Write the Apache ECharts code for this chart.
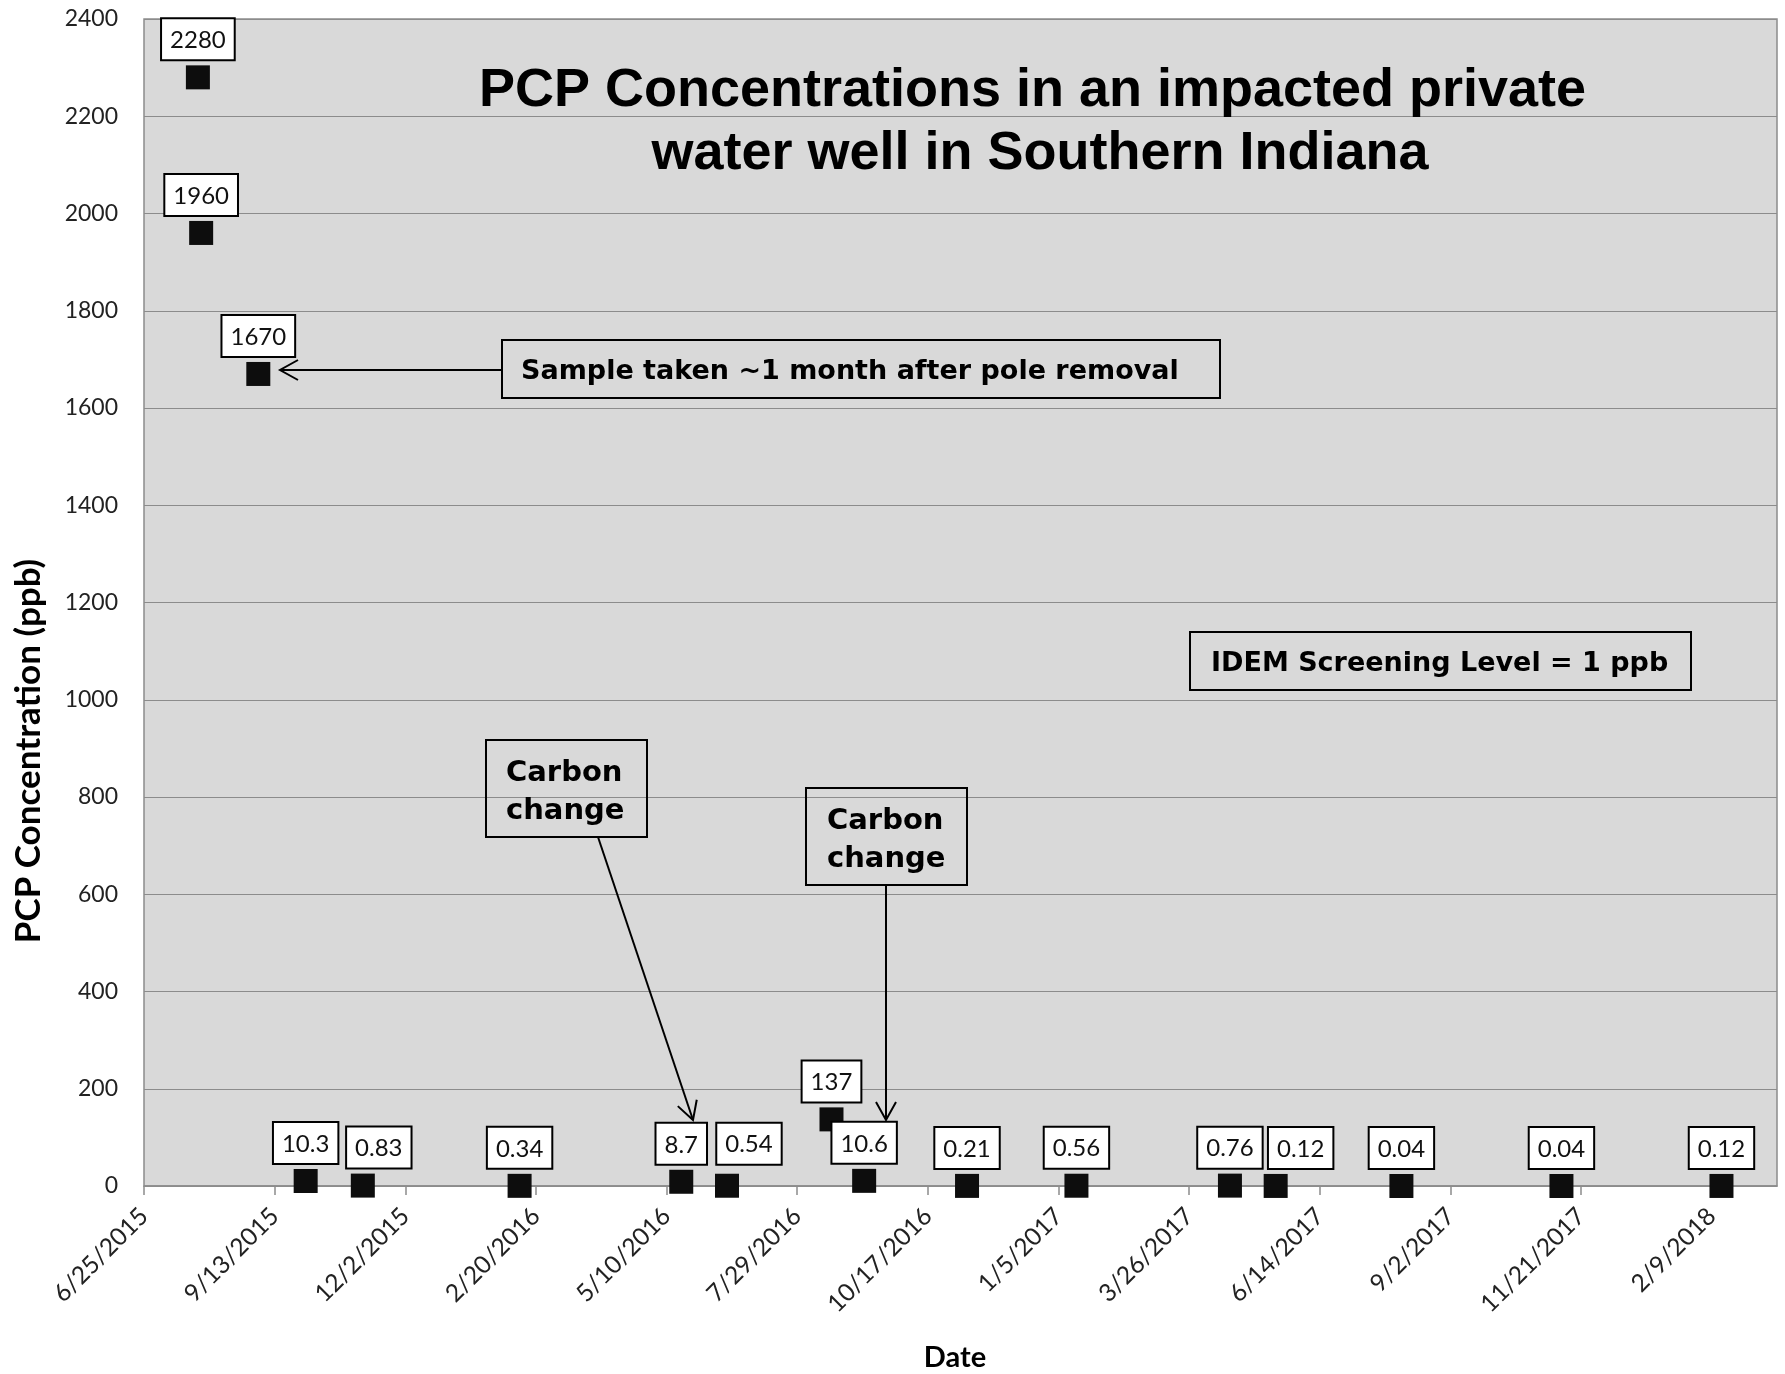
<!DOCTYPE html>
<html><head><meta charset="utf-8">
<script src="https://cdn.jsdelivr.net/npm/echarts@6/dist/echarts.min.js"></script>
<style>html,body{margin:0;padding:0;background:#fff}#c{width:1785px;height:1374px}</style>
</head><body><div id="c"></div>
<script>
// ---- data ----
const sampleDates = ['7/28/2015','7/30/2015','9/3/2015','10/2/2015','11/6/2015','2/10/2016','5/19/2016','6/16/2016','8/19/2016','9/8/2016','11/10/2016','1/16/2017','4/20/2017','5/18/2017','8/3/2017','11/9/2017','2/15/2018'];
const pcpValues = [2280, 1960, 1670, 10.3, 0.83, 0.34, 8.7, 0.54, 137, 10.6, 0.21, 0.56, 0.76, 0.12, 0.04, 0.04, 0.12];
const pcpLabels = ['2280','1960','1670','10.3','0.83','0.34','8.7','0.54','137','10.6','0.21','0.56','0.76','0.12','0.04','0.04','0.12'];
const xTickLabels = ['6/25/2015','9/13/2015','12/2/2015','2/20/2016','5/10/2016','7/29/2016','10/17/2016','1/5/2017','3/26/2017','6/14/2017','9/2/2017','11/21/2017','2/9/2018'];
const xAxisStart = '6/25/2015';
const xAxisEnd = '3/21/2018';
const yMin = 0, yMax = 2400, yStep = 200;

const titleText = 'PCP Concentrations in an impacted private \nwater well in Southern Indiana';
const yAxisTitle = 'PCP Concentration (ppb)';
const xAxisTitle = 'Date';
const noteSample = 'Sample taken ~1 month after pole removal';
const noteIdem = 'IDEM Screening Level = 1 ppb';
const noteCarbon = 'Carbon\nchange';

// ---- helpers ----
function dayNum(s) { const p = s.split('/').map(Number); return Date.UTC(p[2], p[0]-1, p[1]) / 86400000; }
const d0 = dayNum(xAxisStart);
const off = s => dayNum(s) - d0;
const tickOffsets = xTickLabels.map(off);
const labelByOffset = {};
xTickLabels.forEach((t, i) => labelByOffset[tickOffsets[i]] = t);
const seriesData = sampleDates.map((d, i) => [off(d), pcpValues[i]]);

// manually nudged data labels (pixel offsets, as moved in the original)
const labelNudges = { 4: [16, 0], 7: [22, -4], 13: [25, 0] };

const GRID = '#8c8c8c';
const LBL = 'Lato, "Open Sans", sans-serif';
const NOTE = '"DejaVu Sans", sans-serif';

function arrow(x1, y1, x2, y2) {
  const dx = x2 - x1, dy = y2 - y1, L = Math.hypot(dx, dy);
  const ux = dx / L, uy = dy / L, hl = 18, hw = 10;
  const bx = x2 - ux * hl, by = y2 - uy * hl;
  return [
    { type: 'line', shape: { x1, y1, x2, y2 }, style: { stroke: '#000', lineWidth: 2 }, z: 50 },
    { type: 'polyline', shape: { points: [[bx - uy * hw, by + ux * hw], [x2, y2], [bx + uy * hw, by - ux * hw]] },
      style: { stroke: '#000', lineWidth: 2, fill: null }, z: 50 }
  ];
}
function box(x, y, w, h) {
  return { type: 'rect', shape: { x, y, width: w, height: h }, style: { fill: 'rgba(0,0,0,0)', stroke: '#000', lineWidth: 2 }, z: 50 };
}
function txt(text, x, y, font, align, lh, rot) {
  return { type: 'text', x, y, rotation: rot || 0, z: 51,
    style: { text, font, fill: '#000', textAlign: align || 'left', textVerticalAlign: 'middle', lineHeight: lh } };
}

const chart = echarts.init(document.getElementById('c'), null, { renderer: 'canvas' });
chart.setOption({
  animation: false,
  backgroundColor: '#fff',
  title: {
    text: titleText, left: 1040, top: 60, textAlign: 'center', padding: 0,
    textStyle: { fontFamily: '"Liberation Sans", Arial, sans-serif', fontWeight: 'bold', fontSize: 54, lineHeight: 63, color: '#000' }
  },
  grid: { left: 144, right: 8, top: 19, bottom: 188, show: true, backgroundColor: '#d9d9d9', borderColor: GRID, borderWidth: 1.5 },
  xAxis: {
    type: 'value', min: 0, max: off(xAxisEnd),
    splitLine: { show: false },
    axisLine: { lineStyle: { color: GRID, width: 1.5 } },
    axisTick: { show: true, customValues: tickOffsets, length: 9, lineStyle: { color: GRID, width: 1.5 } },
    axisLabel: { customValues: tickOffsets, rotate: 45, margin: 26, fontSize: 24.5, fontFamily: LBL, color: '#222',
      formatter: v => labelByOffset[Math.round(v)] || '' }
  },
  yAxis: {
    type: 'value', min: yMin, max: yMax, interval: yStep,
    axisLine: { show: false }, axisTick: { show: false },
    splitLine: { lineStyle: { color: GRID, width: 1.2 } },
    axisLabel: { margin: 26, fontSize: 23, fontFamily: LBL, color: '#222', formatter: v => String(v) }
  },
  series: [{
    type: 'scatter', symbol: 'rect', symbolSize: 24, clip: false,
    itemStyle: { color: '#0d0d0d', opacity: 1 },
    data: seriesData,
    label: {
      show: true, position: 'top', distance: 6,
      formatter: p => pcpLabels[p.dataIndex],
      fontFamily: LBL, fontSize: 24, lineHeight: 26, color: '#111',
      backgroundColor: '#fff', borderColor: '#000', borderWidth: 2, padding: [8, 8, 6, 8]
    },
    labelLayout: p => {
      const n = labelNudges[p.dataIndex];
      return n ? { dx: n[0], dy: n[1], hideOverlap: false } : { hideOverlap: false };
    },
    emphasis: { disabled: true }
  }],
  graphic: [
    txt(yAxisTitle, 29, 751, 'bold 35px ' + LBL, 'center', 38, Math.PI / 2),
    txt(xAxisTitle, 955, 1358, 'bold 29px ' + LBL, 'center', 32),
    box(502, 340, 718, 58),
    txt(noteSample, 521, 372, 'bold 27px ' + NOTE, 'left', 30),
    ...arrow(502, 370, 280, 370),
    box(1190, 632, 501, 58),
    txt(noteIdem, 1211, 664, 'bold 27px ' + NOTE, 'left', 30),
    box(486, 740, 161, 97),
    txt(noteCarbon, 506, 792.5, 'bold 29px ' + NOTE, 'left', 38),
    ...arrow(598, 837, 693, 1120),
    box(806, 788, 161, 97),
    txt(noteCarbon, 827, 840.7, 'bold 29px ' + NOTE, 'left', 38),
    ...arrow(886, 885, 886, 1120)
  ]
});
</script>
</body></html>
